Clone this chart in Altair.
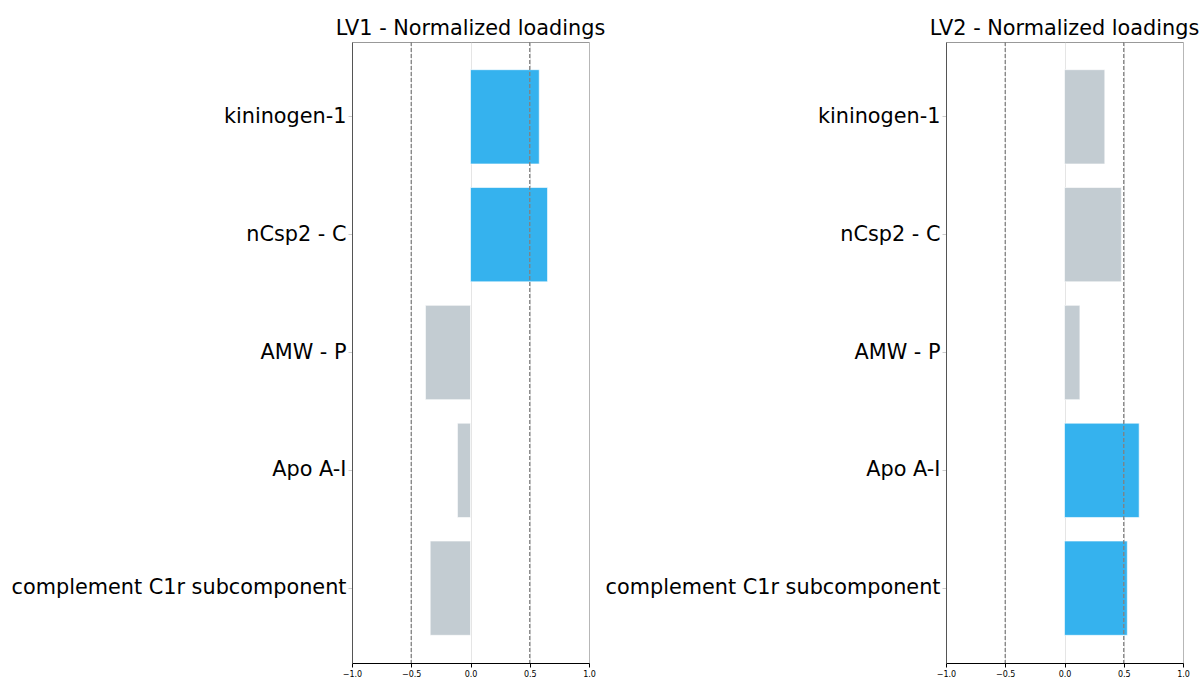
import altair as alt
import pandas as pd

# Proteins (top to bottom) and their normalized loadings on the two latent variables
proteins = ["kininogen-1", "nCsp2 - C", "AMW - P", "Apo A-I", "complement C1r subcomponent"]
lv1_loadings = [0.58, 0.65, -0.38, -0.11, -0.34]
lv2_loadings = [0.34, 0.48, 0.13, 0.63, 0.53]

# Reference thresholds and x tick positions
threshold_lines = [-0.5, 0.5]
x_ticks = [-1.0, -0.5, 0.0, 0.5, 1.0]

BLUE = "#35B2EE"
GRAY = "#C3CCD2"
FONT = "DejaVu Sans"


def loadings_panel(values, title):
    df = pd.DataFrame({"protein": proteins, "loading": values})
    x_axis = alt.Axis(
        values=x_ticks, format=".1f", title=None,
        labelFontSize=8, labelColor="black", labelPadding=3,
        tickColor="black", tickSize=4, domainColor="black",
        labelFlush=False,
    )
    bars = alt.Chart(df).mark_bar(stroke="white", strokeWidth=0.6).encode(
        x=alt.X("loading:Q", stack=None, scale=alt.Scale(domain=[-1, 1], nice=False),
                axis=x_axis),
        y=alt.Y(
            "protein:N", sort=proteins,
            scale=alt.Scale(paddingInner=0.2, paddingOuter=0.235),
            axis=alt.Axis(
                title=None, bandPosition=0.5, labelFontSize=20.8,
                labelColor="black", labelPadding=2, tickSize=4,
                tickColor="#cccccc", domainColor="#555555",
                minExtent=339, maxExtent=339, labelLimit=400,
            ),
        ),
        color=alt.condition("abs(datum.loading) > 0.5", alt.value(BLUE), alt.value(GRAY)),
    )
    rules = alt.Chart(pd.DataFrame({"threshold": threshold_lines})).mark_rule(
        color="#808080", strokeDash=[4, 2], strokeWidth=1.3
    ).encode(x="threshold:Q")
    return alt.layer(bars, rules).properties(
        width=237,
        height=621,
        title=alt.TitleParams(title, fontSize=20.8, font=FONT, fontWeight="normal",
                              color="black", anchor="middle", offset=2),
    )


chart = alt.hconcat(
    loadings_panel(lv1_loadings, "LV1 - Normalized loadings"),
    loadings_panel(lv2_loadings, "LV2 - Normalized loadings"),
    spacing=357,
    bounds="flush",
).configure_view(
    stroke="#999999"
).configure_axis(
    labelFont=FONT, zindex=1, gridColor="#cfcfcf", gridOpacity=0.55, gridWidth=1,
).properties(
    padding={"left": 10, "top": 17, "right": 0, "bottom": 0},
    background="white",
)

chart.save("out.html", embed_options={"renderer": "svg", "actions": False})
